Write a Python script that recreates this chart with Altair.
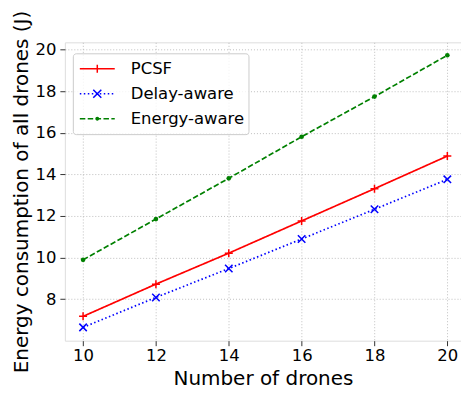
import altair as alt
import pandas as pd

# ---- data ----
drones = [10, 12, 14, 16, 18, 20]
pcsf = [7.17, 8.72, 10.21, 11.76, 13.31, 14.88]
delay_aware = [6.64, 8.08, 9.47, 10.89, 12.32, 13.76]
energy_aware = [9.89, 11.85, 13.81, 15.81, 17.74, 19.73]
series_names = ["PCSF", "Delay-aware", "Energy-aware"]
series_colors = ["#ff0000", "#0000ff", "#008000"]
x_ticks = [10, 12, 14, 16, 18, 20]
y_ticks = [8, 10, 12, 14, 16, 18, 20]

rows = []
for name, vals in zip(series_names, [pcsf, delay_aware, energy_aware]):
    for d, v in zip(drones, vals):
        rows.append({"drones": d, "energy": v, "series": name})
df = pd.DataFrame(rows)

FONT = "DejaVu Sans"
SPINE = "#333333"

# dash patterns (px): solid, dotted, dashed
dash_patterns = [[1, 0], [1.5, 2.5], [5.5, 2.4]]

# scales for the plotted marks (listed in reverse order so that their
# hidden legends are not merged with the visible legend below)
plot_color = alt.Scale(domain=series_names[::-1], range=series_colors[::-1])
plot_dash = alt.Scale(domain=series_names[::-1], range=dash_patterns[::-1])
legend_color = alt.Scale(domain=series_names, range=series_colors)
xs = alt.Scale(domain=[9.5, 20.375], nice=False, zero=False)
ys = alt.Scale(domain=[6.0, 20.35], nice=False, zero=False)


# legend symbol paths: a 35px line (with its dash pattern) plus the marker
def line_path(on, off, length=35.0):
    half = length / 2
    if off == 0:
        return "M-1,0H1"
    parts = []
    pos = 0.0
    while pos < length:
        end = min(pos + on, length)
        parts.append(f"M{(pos - half) / half:.4f},0H{(end - half) / half:.4f}")
        pos += on + off
    return "".join(parts)


m = 0.23
legend_paths = [
    line_path(35, 0) + f"M0,-{m}V{m}",
    line_path(1.5, 2.5) + f"M-{m},-{m}L{m},{m}M-{m},{m}L{m},-{m}",
    line_path(5.5, 2.4) + "M0.07,0A0.07,0.07,0,1,1,-0.07,0A0.07,0.07,0,1,1,0.07,0",
]
shape_scale = alt.Scale(domain=series_names, range=legend_paths)

x_axis = alt.Axis(
    values=x_ticks, format="d", title="Number of drones",
    grid=True, gridDash=[1, 2], gridColor="#b0b0b0", gridWidth=0.8,
    domain=False,
    ticks=True, tickColor=SPINE, tickSize=5, tickWidth=1,
    labelFont=FONT, labelFontSize=16.5, labelColor="black", labelPadding=2,
    titleFont=FONT, titleFontSize=20, titleFontWeight="normal", titleColor="black",
    titlePadding=4,
)
y_axis = alt.Axis(
    values=y_ticks, format="d", title="Energy consumption of all drones (J)",
    grid=True, gridDash=[1, 2], gridColor="#b0b0b0", gridWidth=0.8,
    domain=False,
    ticks=True, tickColor=SPINE, tickSize=5, tickWidth=1,
    labelFont=FONT, labelFontSize=16.5, labelColor="black", labelPadding=4,
    titleFont=FONT, titleFontSize=20, titleFontWeight="normal", titleColor="black",
    titlePadding=3,
)

legend = alt.Legend(
    title=None, orient="none", legendX=8, legendY=11,
    symbolSize=1225, symbolStrokeWidth=1.5, symbolOffset=2,
    labelFont=FONT, labelFontSize=16.5, labelColor="black", labelOffset=15,
    padding=4, rowPadding=2, clipHeight=23,
    strokeColor="#cccccc", fillColor="rgba(255,255,255,0.8)",
    cornerRadius=3,
)

base = alt.Chart(df)
X = alt.X("drones:Q", scale=xs, axis=x_axis)
Y = alt.Y("energy:Q", scale=ys, axis=y_axis)

lines = base.mark_line(strokeWidth=1.7).encode(
    x=X, y=Y,
    stroke=alt.Stroke("series:N", scale=plot_color, legend=None),
    strokeDash=alt.StrokeDash("series:N", scale=plot_dash, legend=None),
)

plus_pts = base.transform_filter(alt.datum.series == "PCSF").mark_point(
    shape="M-1,0H1M0,-1V1", size=64, filled=False, strokeWidth=1.5, opacity=1
).encode(x=X, y=Y, stroke=alt.Stroke("series:N", scale=plot_color, legend=None))

x_pts = base.transform_filter(alt.datum.series == "Delay-aware").mark_point(
    shape="M-1,-1L1,1M-1,1L1,-1", size=56, filled=False, strokeWidth=1.5, opacity=1
).encode(x=X, y=Y, stroke=alt.Stroke("series:N", scale=plot_color, legend=None))

dot_pts = base.transform_filter(alt.datum.series == "Energy-aware").mark_point(
    shape="circle", size=22, filled=True, opacity=1
).encode(x=X, y=Y, fill=alt.Fill("series:N", scale=plot_color, legend=None))

legend_layer = base.transform_filter("false").mark_point(
    filled=False, strokeWidth=1.5, opacity=1
).encode(
    color=alt.Color("series:N", scale=legend_color, legend=legend),
    shape=alt.Shape("series:N", scale=shape_scale, legend=legend),
)

chart = alt.layer(lines, plus_pts, x_pts, dot_pts, legend_layer).properties(
    width=397,
    height=299,
    autosize=alt.AutoSizeParams(type="none"),
    padding={"left": 65, "top": 42, "right": 0, "bottom": 53},
).configure_view(stroke=SPINE, strokeWidth=1.2).configure(background="white")

chart.save("out.html", embed_options={"renderer": "svg", "actions": False})
